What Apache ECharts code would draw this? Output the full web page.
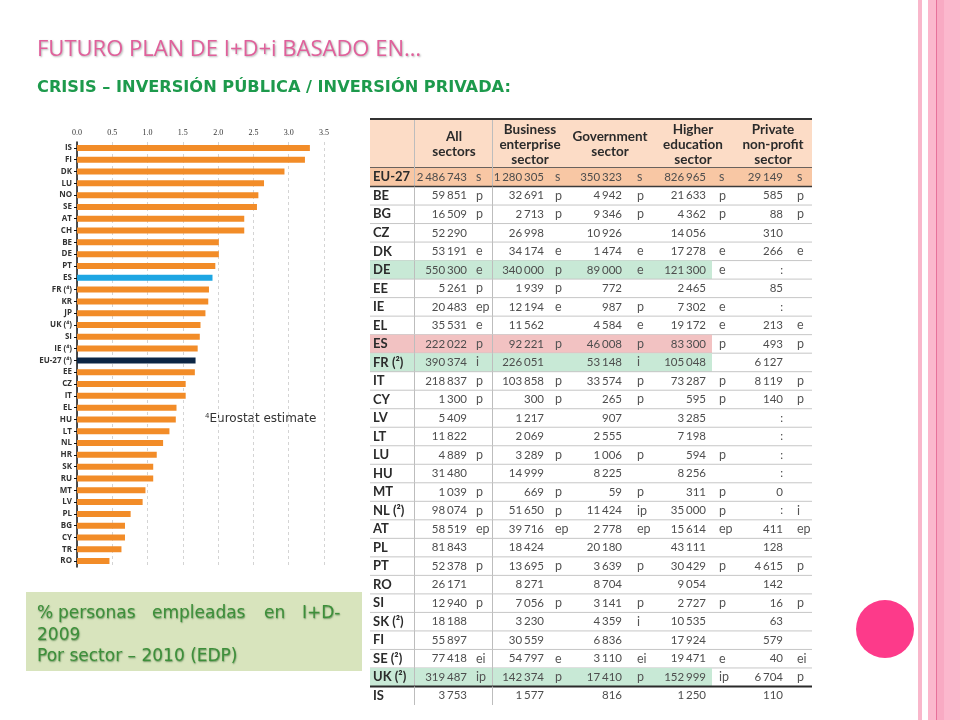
<!DOCTYPE html>
<html>
<head>
<meta charset="utf-8">
<script src="https://cdn.jsdelivr.net/npm/echarts@6/dist/echarts.min.js"></script>
<style>html,body{margin:0;padding:0;background:#fff;}#c{width:960px;height:720px;}</style>
</head>
<body>
<div id="c"></div>
<script>
// ---- Bar chart data: % personas empleadas en I+D (2009) ----
const barCategories = ['IS','FI','DK','LU','NO','SE','AT','CH','BE','DE','PT','ES','FR (⁴)','KR','JP','UK (⁴)','SI','IE (⁴)','EU-27 (⁴)','EE','CZ','IT','EL','HU','LT','NL','HR','SK','RU','MT','LV','PL','BG','CY','TR','RO'];
const barValues = [3.30,3.23,2.94,2.65,2.57,2.55,2.37,2.37,2.01,2.01,1.96,1.92,1.87,1.86,1.82,1.75,1.74,1.71,1.68,1.67,1.54,1.54,1.41,1.40,1.31,1.22,1.13,1.08,1.08,0.97,0.93,0.76,0.68,0.68,0.63,0.46];
const xTicks = [0,0.5,1,1.5,2,2.5,3,3.5];

// ---- Table data: personal de I+D por sector, 2010 ----
const tblCountries = ['EU-27','BE','BG','CZ','DK','DE','EE','IE','EL','ES','FR (²)','IT','CY','LV','LT','LU','HU','MT','NL (²)','AT','PL','PT','RO','SI','SK (²)','FI','SE (²)','UK (²)','IS'];
const tblHeaders = [['All','sectors'],['Business','enterprise','sector'],['Government','sector'],['Higher','education','sector'],['Private','non-profit','sector']];
const allSectors = [2486743,59851,16509,52290,53191,550300,5261,20483,35531,222022,390374,218837,1300,5409,11822,4889,31480,1039,98074,58519,81843,52378,26171,12940,18188,55897,77418,319487,3753];
const allFlags = ['s','p','p','','e','e','p','ep','e','p','i','p','p','','','p','','p','p','ep','','p','','p','','','ei','ip',''];
const business = [1280305,32691,2713,26998,34174,340000,1939,12194,11562,92221,226051,103858,300,1217,2069,3289,14999,669,51650,39716,18424,13695,8271,7056,3230,30559,54797,142374,1577];
const businessFlags = ['s','p','p','','e','p','p','e','','p','','p','p','','','p','','p','p','ep','','p','','p','','','e','p',''];
const government = [350323,4942,9346,10926,1474,89000,772,987,4584,46008,53148,33574,265,907,2555,1006,8225,59,11424,2778,20180,3639,8704,3141,4359,6836,3110,17410,816];
const governmentFlags = ['s','p','p','','e','e','','p','e','p','i','p','p','','','p','','p','ip','ep','','p','','p','i','','ei','p',''];
const higherEdu = [826965,21633,4362,14056,17278,121300,2465,7302,19172,83300,105048,73287,595,3285,7198,594,8256,311,35000,15614,43111,30429,9054,2727,10535,17924,19471,152999,1250];
const higherEduFlags = ['s','p','p','','e','e','','e','e','p','','p','p','','','p','','p','p','ep','','p','','p','','','e','ip',''];
const privateNP = [29149,585,88,310,266,null,85,null,213,493,6127,8119,140,null,null,null,null,0,null,411,128,4615,142,16,63,579,40,6704,110];
const privateNPFlags = ['s','p','p','','e','','','','e','p','','p','p','','','','','','i','ep','','p','','p','','','ei','p',''];

const colValues = [allSectors,business,government,higherEdu,privateNP];
const colFlags = [allFlags,businessFlags,governmentFlags,higherEduFlags,privateNPFlags];

// ---- layout / style constants ----
const TBL_LEFT = 370, TBL_RIGHT = 812, TBL_TOP = 119, TBL_BODY_TOP = 168, TBL_BOTTOM = 705;
const colRight = [97,174,252,336,413];
const flagLeft = [106,185,267,349,427];
const headerCenter = [84,160,240,323,403];
const vSeps = [44,122];
const rowFill = {'EU-27':'#f8c7a4','DE':'#c8e9d6','ES':'#f2c2c2','FR (²)':'#c8e9d6','UK (²)':'#c8e9d6'};
const TFONT = 'Lato, Roboto, sans-serif';

function fmt(v){
  if (v === null || v === undefined) return ':';
  return String(v).replace(/\B(?=(\d{3})+(?!\d))/g, '{g| }');
}

const chart = echarts.init(document.getElementById('c'), null, {renderer:'canvas'});

function renderRow(params, api){
  const i = api.value(0);
  const name = tblCountries[i];
  const c = api.coord([0, i]);
  const h = api.size([0, 1])[1];
  const top = c[1] - h/2;
  const x0 = params.coordSys.x;
  const w = params.coordSys.width;
  const ch = [];
  if (rowFill[name]) {
    const fw = name === 'EU-27' ? w : 342;
    ch.push({type:'rect', shape:{x:x0, y:top, width:fw, height:h}, style:{fill:rowFill[name]}});
  }
  vSeps.forEach(function(s){
    ch.push({type:'line', shape:{x1:x0+s+0.5, y1:top, x2:x0+s+0.5, y2:top+h}, style:{stroke:'#bdbdbd', lineWidth:1}});
  });
  if (i < tblCountries.length - 1) {
    let stroke = '#c6c6c6', lw = 1;
    if (name === 'EU-27') { stroke = '#3a3a3a'; lw = 1.5; }
    if (name === 'UK (²)') { stroke = '#2a2a2a'; lw = 2.2; }
    ch.push({type:'line', shape:{x1:x0, y1:top+h, x2:x0+w, y2:top+h}, style:{stroke:stroke, lineWidth:lw}});
  }
  ch.push({type:'text', style:{text:name, x:x0+3, y:c[1], align:'left', verticalAlign:'middle',
    fontSize:13, fontWeight:'bold', fontFamily:TFONT, fill:'#2b2b2b'}});
  for (let k = 0; k < 5; k++) {
    ch.push({type:'text', style:{text:fmt(colValues[k][i]), x:x0+colRight[k], y:c[1], align:'right', verticalAlign:'middle',
      fontSize:11.5, fontFamily:TFONT, fill:'#4d4d4d',
      rich:{g:{fontSize:7, fontFamily:TFONT}}}});
    if (colFlags[k][i]) {
      ch.push({type:'text', style:{text:colFlags[k][i], x:x0+flagLeft[k], y:c[1], align:'left', verticalAlign:'middle',
        fontSize:12.5, fontFamily:TFONT, fill:'#555'}});
    }
  }
  return {type:'group', children:ch};
}

// header graphic
const headerGraphics = [];
headerGraphics.push({type:'rect', shape:{x:TBL_LEFT, y:TBL_TOP, width:TBL_RIGHT-TBL_LEFT, height:TBL_BODY_TOP-TBL_TOP}, style:{fill:'#fcdcc6'}});
headerGraphics.push({type:'line', shape:{x1:TBL_LEFT, y1:TBL_TOP, x2:TBL_RIGHT, y2:TBL_TOP}, style:{stroke:'#333', lineWidth:2}});
headerGraphics.push({type:'line', shape:{x1:TBL_LEFT, y1:TBL_BODY_TOP, x2:TBL_RIGHT, y2:TBL_BODY_TOP}, style:{stroke:'#3a3a3a', lineWidth:1.5}});
vSeps.forEach(function(s){
  headerGraphics.push({type:'line', shape:{x1:TBL_LEFT+s+0.5, y1:TBL_TOP+1, x2:TBL_LEFT+s+0.5, y2:TBL_BODY_TOP}, style:{stroke:'#bdbdbd', lineWidth:1}});
});
tblHeaders.forEach(function(lines, k){
  const y0 = lines.length === 3 ? 130 : 136.5;
  lines.forEach(function(t, j){
    headerGraphics.push({type:'text', x:TBL_LEFT+headerCenter[k], y:y0 + j*14.8,
      style:{text:t, align:'center', verticalAlign:'middle', fontSize:13.5, fontWeight:'bold', fontFamily:TFONT, fill:'#2b2b2b'}});
  });
});

// green caption box words (line 1 justified)
const captionLine1 = '% personas empleadas en I+D-'.split(' ');
const captionWordX = [37,58,152,264,302];
const captionStyle = {fontSize:17, fontFamily:'"DejaVu Sans", sans-serif', fill:'#3d8f3a',
  textShadowColor:'rgba(20,80,20,0.55)', textShadowBlur:1.5, textShadowOffsetX:0.5, textShadowOffsetY:0.5, verticalAlign:'middle'};
const captionGraphics = [{type:'rect', shape:{x:26, y:592, width:336, height:79}, style:{fill:'#d8e4bd'}}];
captionLine1.forEach(function(wd, k){
  captionGraphics.push({type:'text', x:captionWordX[k], y:614, style:Object.assign({text:wd}, captionStyle)});
});
captionGraphics.push({type:'text', x:37, y:636, style:Object.assign({text:'2009'}, captionStyle)});
captionGraphics.push({type:'text', x:37, y:657, style:Object.assign({text:'Por sector – 2010 (EDP)'}, captionStyle)});

const option = {
  backgroundColor:'#ffffff',
  animation:false,
  grid:[
    {left:77, top:142, width:247, height:425, containLabel:false},
    {left:TBL_LEFT, top:TBL_BODY_TOP, width:TBL_RIGHT-TBL_LEFT, height:TBL_BOTTOM-TBL_BODY_TOP}
  ],
  xAxis:[
    {gridIndex:0, type:'value', position:'top', min:0, max:3.5, interval:0.5,
     axisLine:{show:false}, axisTick:{show:false},
     axisLabel:{formatter:function(v){return v.toFixed(1);}, fontSize:8, fontFamily:'"Liberation Serif","DejaVu Serif",serif', color:'#333', margin:5},
     splitLine:{show:true, lineStyle:{color:'#d4d4d4', type:[3,3], width:1}}},
    {gridIndex:1, type:'value', min:0, max:1, show:false}
  ],
  yAxis:[
    {gridIndex:0, type:'category', data:barCategories, inverse:true,
     axisLine:{show:true, lineStyle:{color:'#111', width:1.5}},
     axisTick:{show:true, length:3, alignWithLabel:true, lineStyle:{color:'#111'}},
     axisLabel:{fontSize:8, fontWeight:'bold', fontFamily:'"Open Sans","DejaVu Sans",sans-serif', color:'#333', margin:5, interval:0}},
    {gridIndex:1, type:'category', data:tblCountries, inverse:true, show:false}
  ],
  series:[
    {type:'bar', xAxisIndex:0, yAxisIndex:0, data:barValues, barWidth:6,
     itemStyle:{color:function(p){
       if (p.name === 'ES') return '#1ea6e3';
       if (p.name.indexOf('EU-27') === 0) return '#0c2645';
       return '#f28c28';
     }}},
    {type:'custom', xAxisIndex:1, yAxisIndex:1, data:tblCountries.map(function(c, i){return [i];}),
     encode:{y:0}, renderItem:renderRow, clip:false, silent:true}
  ],
  graphic:[
    // right side decoration
    {type:'rect', shape:{x:918, y:0, width:4, height:720}, style:{fill:'#f9b7cb'}},
    {type:'rect', shape:{x:928, y:0, width:32, height:720}, style:{fill:'#fbb8cd'}},
    {type:'rect', shape:{x:937, y:0, width:7, height:720}, style:{fill:'#f8aac3'}},
    {type:'line', shape:{x1:936.5, y1:0, x2:936.5, y2:720}, style:{stroke:'#e7719b', lineWidth:1}},
    {type:'circle', shape:{cx:885, cy:629, r:29}, style:{fill:'#fd3a8a'}},
    // titles
    {type:'text', x:37, y:50, style:{text:'FUTURO PLAN DE I+D+i BASADO EN…', fontSize:22, fontFamily:'"Open Sans", Lato, sans-serif',
      fill:'#e0609b', verticalAlign:'middle', textShadowColor:'rgba(0,0,0,0.3)', textShadowBlur:2, textShadowOffsetX:1, textShadowOffsetY:1}},
    {type:'text', x:37, y:88, style:{text:'CRISIS – INVERSIÓN PÚBLICA / INVERSIÓN PRIVADA:', fontSize:16.2, fontWeight:'bold',
      fontFamily:'"DejaVu Sans", sans-serif', fill:'#1d9a4c', verticalAlign:'middle'}},
    // note
    {type:'text', x:205, y:419, style:{text:'{s|4}Eurostat estimate', verticalAlign:'middle',
      rich:{s:{fontSize:7, verticalAlign:'top', fontFamily:'"DejaVu Sans",sans-serif', fill:'#333', padding:[0,0,6,0]}},
      fontSize:12, fontFamily:'"DejaVu Sans",sans-serif', fill:'#333'}}
  ].concat(headerGraphics).concat(captionGraphics)
};
chart.setOption(option);
</script>
</body>
</html>
